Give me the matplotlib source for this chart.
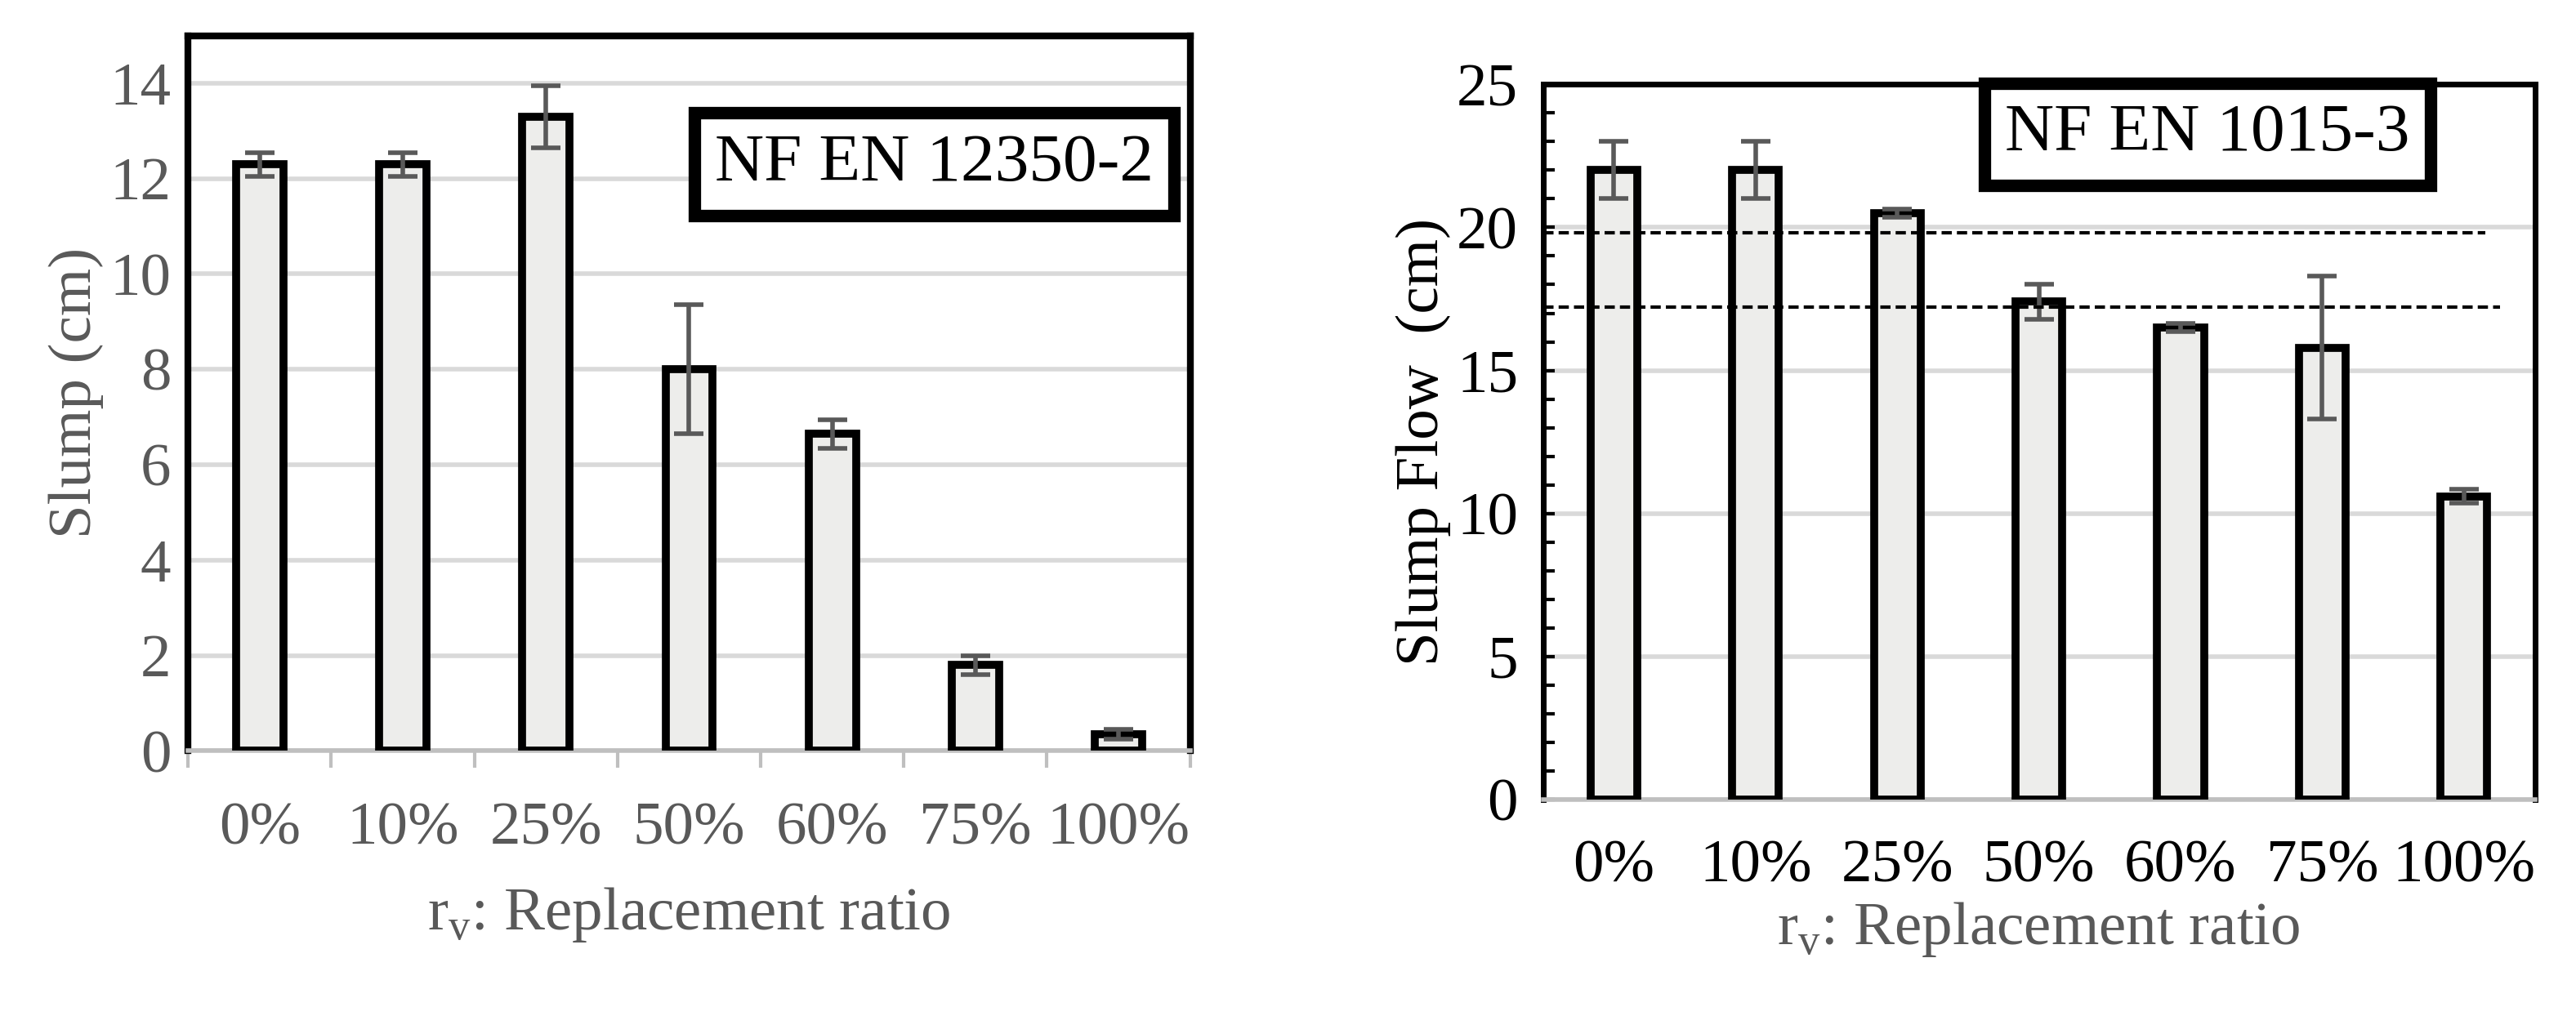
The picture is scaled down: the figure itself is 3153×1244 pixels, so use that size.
import matplotlib
matplotlib.use("Agg")
import matplotlib.pyplot as plt
import numpy as np

plt.rcParams['font.family'] = ['Liberation Serif', 'DejaVu Serif']
plt.rcParams['mathtext.fontset'] = 'custom'
plt.rcParams['mathtext.rm'] = 'Liberation Serif'

categories = ['0%', '10%', '25%', '50%', '60%', '75%', '100%']
slump = [12.3, 12.3, 13.3, 8.0, 6.65, 1.8, 0.35]
slump_err = [0.25, 0.25, 0.65, 1.35, 0.3, 0.2, 0.1]
flow = [22.0, 22.0, 20.5, 17.4, 16.5, 15.8, 10.6]
flow_err = [1.0, 1.0, 0.15, 0.6, 0.15, 2.5, 0.25]
flow_limits = [19.8, 17.2]

fig = plt.figure(figsize=(31.53, 12.44), dpi=100)
grey = '#595959'
fs = 54
x = np.arange(len(categories))

# Left panel
ax1 = fig.add_axes([0.073, 0.261, 0.389, 0.704])
ax1.bar(x, slump, width=0.33, color='#ededeb', edgecolor='black', linewidth=7, zorder=3)
ax1.errorbar(x, slump, yerr=slump_err, fmt='none', ecolor=grey, elinewidth=4, capsize=13, capthick=4, zorder=4)
ax1.set_ylim(0, 15)
ax1.set_xlim(-0.5, 6.5)
ax1.set_yticks(range(0, 15, 2))
ax1.yaxis.grid(True, color='#d9d9d9', linewidth=4, zorder=0)
ax1.set_axisbelow(True)
ax1.set_xticks(x)
ax1.set_xticklabels(categories)
ax1.set_xticks(np.arange(-0.5, 7, 1), minor=True)
ax1.tick_params(axis='x', which='major', length=0, pad=45, labelsize=fs, labelcolor=grey)
ax1.tick_params(axis='x', which='minor', length=15, width=3, color='#bfbfbf', direction='out')
ax1.tick_params(axis='y', length=0, labelsize=fs, labelcolor=grey, pad=15)
for s in ['top', 'left', 'right']:
    ax1.spines[s].set_linewidth(6)
    ax1.spines[s].set_color('black')
ax1.spines['bottom'].set_color('#bfbfbf')
ax1.spines['bottom'].set_linewidth(4)
ax1.set_ylabel('Slump (cm)', fontsize=fs, color=grey, labelpad=5)
ax1.set_xlabel(r'r$_\mathrm{v}$: Replacement ratio', fontsize=fs, color=grey, labelpad=25)
ax1.text(0.745, 0.82, 'NF EN 12350-2', transform=ax1.transAxes, fontsize=60, ha='center', va='center',
         bbox=dict(boxstyle='square,pad=0.3', fc='white', ec='black', lw=11), zorder=5)

# Right panel
ax2 = fig.add_axes([0.599, 0.213, 0.385, 0.704])
ax2.bar(x, flow, width=0.33, color='#ededeb', edgecolor='black', linewidth=7, zorder=3)
ax2.errorbar(x, flow, yerr=flow_err, fmt='none', ecolor=grey, elinewidth=4, capsize=13, capthick=4, zorder=4)
ax2.set_ylim(0, 25)
ax2.set_xlim(-0.5, 6.5)
ax2.set_yticks(range(0, 26, 5))
ax2.set_yticks(range(0, 26, 1), minor=True)
ax2.yaxis.grid(True, which='major', color='#d9d9d9', linewidth=4, zorder=0)
ax2.set_axisbelow(True)
for v, xm in zip(flow_limits, [0.95, 0.965]):
    ax2.axhline(v, xmin=0, xmax=xm, color='black', linestyle='--', linewidth=3, dashes=(3, 1.5), zorder=5)
ax2.set_xticks(x)
ax2.set_xticklabels(categories)
ax2.tick_params(axis='x', length=0, pad=35, labelsize=fs, labelcolor='black')
ax2.tick_params(axis='y', which='major', length=10, width=3, direction='in', labelsize=fs, pad=22)
ax2.tick_params(axis='y', which='minor', length=10, width=3, direction='in')
for s in ['top', 'left', 'right']:
    ax2.spines[s].set_linewidth(5)
ax2.spines['bottom'].set_color('#bfbfbf')
ax2.spines['bottom'].set_linewidth(4)
ax2.set_ylabel('Slump Flow  (cm)', fontsize=fs, color='black', labelpad=5)
ax2.set_xlabel(r'r$_\mathrm{v}$: Replacement ratio', fontsize=fs, color=grey, labelpad=5)
ax2.text(0.67, 0.93, 'NF EN 1015-3', transform=ax2.transAxes, fontsize=60, ha='center', va='center',
         bbox=dict(boxstyle='square,pad=0.3', fc='white', ec='black', lw=11), zorder=6)

fig.savefig('out.png', dpi=100, facecolor='white')
